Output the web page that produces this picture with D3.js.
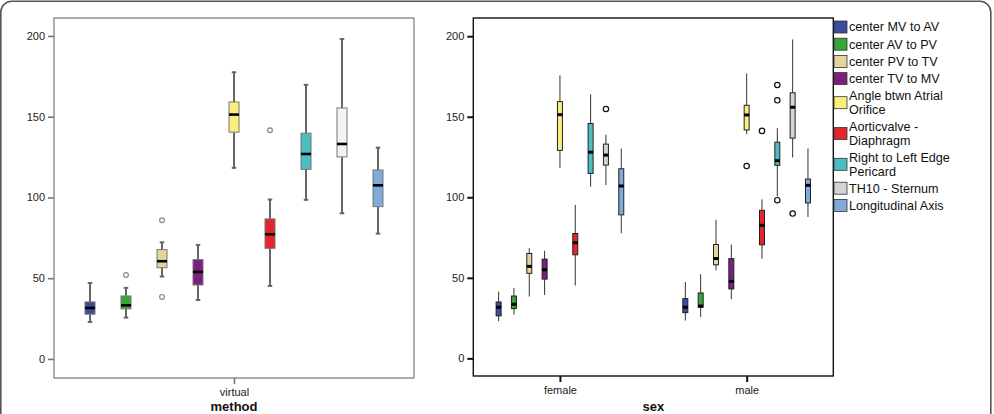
<!DOCTYPE html>
<html>
<head>
<meta charset="utf-8">
<script src="https://cdn.jsdelivr.net/npm/d3@7"></script>
<style>
  body { margin: 0; background: #fff; }
  svg { display: block; font-family: "Liberation Sans", Arial, sans-serif; }
</style>
</head>
<body>
<div id="chart"></div>
<script>
var svgWidth = 994;
var svgHeight = 414;

// measures (legend order)
var measures = ["center MV to AV", "center AV to PV", "center PV to TV", "center TV to MV",
  "Angle btwn Atrial Orifice", "Aorticvalve - Diaphragm", "Right to Left Edge Pericard",
  "TH10 - Sternum", "Longitudinal Axis"];
var legendLines = [["center MV to AV"], ["center AV to PV"], ["center PV to TV"], ["center TV to MV"],
  ["Angle btwn Atrial", "Orifice"], ["Aorticvalve -", "Diaphragm"], ["Right to Left Edge", "Pericard"],
  ["TH10 - Sternum"], ["Longitudinal Axis"]];
var colors = ["#3c4c9c", "#36a636", "#e2d69b", "#7b1f7d", "#f9ef7a", "#e4252c", "#4dbdc4", "#d3d3d3", "#80aadb"];
var colorsLeft = ["#3c4c9c", "#36a636", "#e2d69b", "#7b1f7d", "#f9ef7a", "#e4252c", "#4dbdc4", "#f3f3f3", "#80aadb"];

var yTicks = [0, 50, 100, 150, 200];

// [whisker low, q1, median, q3, whisker high]
var virtualStats = [
  [22.9, 27.7, 31.6, 35.3, 47],
  [25.6, 31, 33.2, 39, 44],
  [51, 56.5, 60.5, 67.7, 72.2],
  [36.5, 45.8, 53.9, 61.5, 70.6],
  [118.3, 140.4, 151.3, 159.1, 177.5],
  [45.2, 68.5, 77.2, 86.7, 98.7],
  [98.5, 117.4, 126.9, 139.8, 169.7],
  [90.2, 125.1, 133.1, 155.4, 198.1],
  [77.6, 94.3, 107.5, 117, 130.8]
];
var virtualOutliers = [[], [52], [85.9, 38.4], [], [], [141.6], [], [], []];

var femaleStats = [
  [23.1, 26.4, 31.7, 35, 41.4],
  [27.2, 30.9, 33.6, 38.7, 43.7],
  [38.4, 52.8, 57.1, 65.1, 68.4],
  [39.4, 49.2, 55, 61.6, 66.8],
  [118.2, 129.1, 151.3, 159.4, 175.7],
  [45.2, 64.3, 71.8, 77.5, 95.3],
  [106.6, 114.8, 128, 145.8, 163.9],
  [107.6, 120, 126.2, 133, 138.9],
  [77.7, 89.1, 107, 117.7, 130.3]
];
var femaleOutliers = [[], [], [], [], [], [], [], [154.8], []];

var maleStats = [
  [23.5, 28.4, 31.7, 37.1, 47.4],
  [25.7, 31.7, 32.5, 40.6, 52.3],
  [54.6, 58.1, 62, 70.7, 86],
  [36.7, 43.1, 47.8, 61.9, 70.7],
  [139.2, 141.8, 151.1, 157.1, 176.9],
  [61.9, 70.5, 82.6, 91.9, 98.7],
  [100.5, 119.8, 122.7, 134.2, 142.9],
  [124.7, 136.7, 155.9, 164.9, 198],
  [87.8, 96.5, 107.4, 111.3, 130.3]
];
var maleOutliers = [[], [], [], [], [119.4], [141.2], [169.7, 160.2, 98.2], [89.9], []];

var svg = d3.select("#chart").append("svg")
  .attr("width", svgWidth)
  .attr("height", svgHeight);

// outer rounded frame
svg.append("rect")
  .attr("x", 0.8).attr("y", 1.3)
  .attr("width", 990).attr("height", 440)
  .attr("rx", 11)
  .attr("fill", "none")
  .attr("stroke", "#555")
  .attr("stroke-width", 1.6);

function drawPanel(p) {
  var g = svg.append("g");

  var y = d3.scaleLinear()
    .domain([p.vMin, p.vMax])
    .range([p.bottom, p.top]);

  var x = d3.scalePoint()
    .domain(p.groups.map(d => d.name))
    .range([p.left, p.right])
    .padding(p.pad);

  var inner = d3.scaleBand()
    .domain(measures)
    .range([-p.step * 4.5, p.step * 4.5]);

  // frame
  g.append("rect")
    .attr("x", p.left).attr("y", p.top)
    .attr("width", p.right - p.left).attr("height", p.bottom - p.top)
    .attr("fill", "none")
    .attr("stroke", p.frame)
    .attr("stroke-width", 1.4);

  // y axis
  var yAxis = g.append("g")
    .attr("transform", `translate(${p.left},0)`)
    .attr("color", "#222")
    .call(d3.axisLeft(y).tickValues(yTicks).tickSize(6).tickPadding(3));
  yAxis.select(".domain").remove();
  yAxis.selectAll("line").attr("stroke", p.tick).attr("stroke-width", p.tickW);
  yAxis.selectAll("text").attr("font-size", 11).attr("fill", "#222")
    .style("font-family", "Liberation Sans, Arial, sans-serif");

  // x axis
  var xAxis = g.append("g")
    .attr("transform", `translate(0,${p.bottom})`)
    .attr("color", "#222")
    .call(d3.axisBottom(x).tickSize(6).tickPadding(4));
  xAxis.select(".domain").remove();
  xAxis.selectAll("line").attr("stroke", p.tick).attr("stroke-width", p.tickW);
  xAxis.selectAll("text").attr("font-size", 11).attr("fill", "#222")
    .style("font-family", "Liberation Sans, Arial, sans-serif");

  g.append("text")
    .attr("x", (p.left + p.right) / 2)
    .attr("y", 411)
    .attr("text-anchor", "middle")
    .attr("font-weight", "bold")
    .attr("font-size", 13)
    .attr("fill", "#111")
    .text(p.title);

  p.groups.forEach(function(grp) {
    var cx0 = x(grp.name);
    grp.stats.forEach(function(s, i) {
      var cx = cx0 + inner(measures[i]) + inner.bandwidth() / 2;
      var hw = p.boxW / 2;
      var bg = g.append("g");

      // whiskers
      bg.append("line")
        .attr("x1", cx).attr("x2", cx)
        .attr("y1", y(s[3])).attr("y2", y(s[4]))
        .attr("stroke", p.whisker).attr("stroke-width", p.whiskerW);
      bg.append("line")
        .attr("x1", cx).attr("x2", cx)
        .attr("y1", y(s[1])).attr("y2", y(s[0]))
        .attr("stroke", p.whisker).attr("stroke-width", p.whiskerW);
      if (p.cap > 0) {
        [s[0], s[4]].forEach(function(v) {
          bg.append("line")
            .attr("x1", cx - p.cap / 2).attr("x2", cx + p.cap / 2)
            .attr("y1", y(v)).attr("y2", y(v))
            .attr("stroke", p.whisker).attr("stroke-width", 2);
        });
      }

      // box
      bg.append("rect")
        .attr("x", cx - hw).attr("width", p.boxW)
        .attr("y", y(s[3])).attr("height", y(s[1]) - y(s[3]))
        .attr("fill", p.colors[i])
        .attr("stroke", p.boxStroke).attr("stroke-width", 1);

      // median
      bg.append("line")
        .attr("x1", cx - hw).attr("x2", cx + hw)
        .attr("y1", y(s[2])).attr("y2", y(s[2]))
        .attr("stroke", "#000").attr("stroke-width", p.medW);

      // outliers
      grp.outliers[i].forEach(function(v) {
        bg.append("circle")
          .attr("cx", cx).attr("cy", y(v))
          .attr("r", p.outR)
          .attr("fill", "none")
          .attr("stroke", p.outStroke).attr("stroke-width", 1.2);
      });
    });
  });
}

// left panel: method
drawPanel({
  left: 54, right: 414, top: 18, bottom: 378,
  vMin: -11.8, vMax: 211.1, pad: 0.5, step: 36, boxW: 10,
  groups: [{ name: "virtual", stats: virtualStats, outliers: virtualOutliers }],
  colors: colorsLeft, title: "method",
  frame: "#8a8a8a", tick: "#777", tickW: 1.6,
  whisker: "#666", whiskerW: 2, cap: 4.5, boxStroke: "#777", medW: 2.6,
  outR: 2.4, outStroke: "#888"
});

// right panel: sex
drawPanel({
  left: 473.3, right: 833.3, top: 18, bottom: 376,
  vMin: -10.95, vMax: 211.3, pad: 0.464, step: 15.33, boxW: 5,
  groups: [
    { name: "female", stats: femaleStats, outliers: femaleOutliers },
    { name: "male", stats: maleStats, outliers: maleOutliers }
  ],
  colors: colors, title: "sex",
  frame: "#111", tick: "#111", tickW: 2,
  whisker: "#333", whiskerW: 1, cap: 0, boxStroke: "#222", medW: 3,
  outR: 2.7, outStroke: "#111"
});

// legend
var legend = svg.append("g");
var cursor = 27;
legendLines.forEach(function(lines, i) {
  var lineCenters = lines.map((l, k) => cursor + k * 13.8);
  var mid = d3.mean(lineCenters);
  legend.append("rect")
    .attr("x", 834).attr("y", mid - 6)
    .attr("width", 13).attr("height", 12)
    .attr("fill", colors[i])
    .attr("stroke", "#333").attr("stroke-width", 0.8);
  lines.forEach(function(l, k) {
    legend.append("text")
      .attr("x", 849).attr("y", lineCenters[k])
      .attr("dy", "0.35em")
      .attr("font-size", 12.6)
      .attr("fill", "#111")
      .text(l);
  });
  cursor += lines.length === 1 ? 17.2 : 30.8;
});
</script>
</body>
</html>
